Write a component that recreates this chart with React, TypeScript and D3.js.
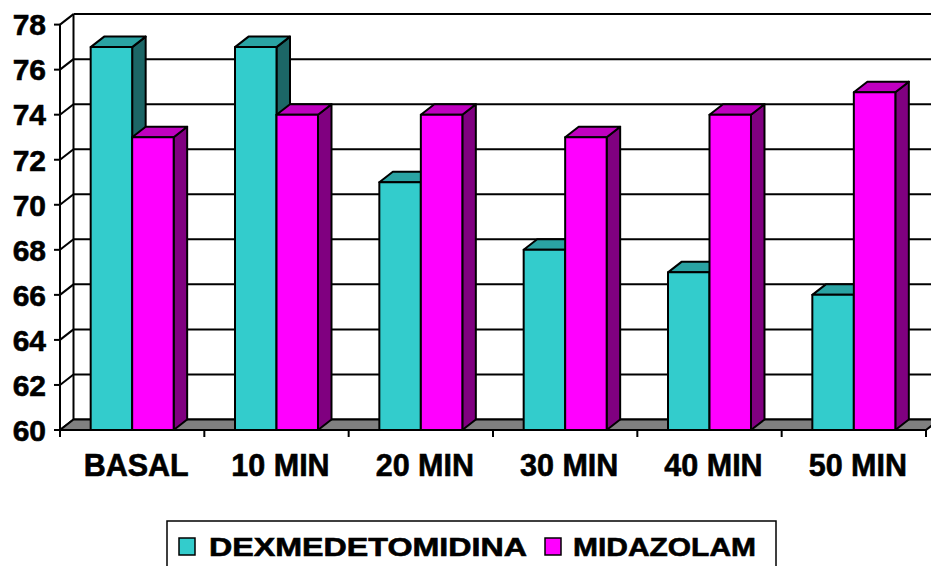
import React from "react";
import * as d3 from "d3";

const categories = ["BASAL", "10 MIN", "20 MIN", "30 MIN", "40 MIN", "50 MIN"];
const seriesNames = ["DEXMEDETOMIDINA", "MIDAZOLAM"];
const dexValues = [77, 77, 71, 68, 67, 66];
const midValues = [73, 74, 74, 73, 74, 75];
const yTicks = [60, 62, 64, 66, 68, 70, 72, 74, 76, 78];

const W = 931;
const H = 566;
const DX = 13.5;
const DY = 10.5;
const FONT = "'Liberation Sans', Arial, sans-serif";

const colors = [
  { front: "#33CCCC", top: "#2AA3A3", side: "#1C6666" },
  { front: "#FF00FF", top: "#C000C0", side: "#800080" },
];

export default function App() {
  const x = d3
    .scaleBand<string>()
    .domain(categories)
    .range([60, 926])
    .paddingInner(0.425)
    .paddingOuter(0.2125);
  const xs = d3.scaleBand<string>().domain(seriesNames).range([0, x.bandwidth()]).padding(0);
  const y = d3.scaleLinear().domain([60, 78]).range([430, 24.6]);

  const x0 = x.range()[0];
  const x1 = x.range()[1];
  const y0 = y(60);
  const step = x.step();
  const boundaries = d3.range(categories.length + 1).map((i) => x0 + i * step);
  const values = [dexValues, midValues];

  const bars: JSX.Element[] = [];
  categories.forEach((c, ci) => {
    seriesNames.forEach((s, si) => {
      const v = values[si][ci];
      const L = (x(c) as number) + (xs(s) as number);
      const R = L + xs.bandwidth();
      const T = y(v);
      const B = y0;
      const col = colors[si];
      const front = `M${L},${T}L${R},${T}L${R},${B}L${L},${B}Z`;
      const top = `M${L},${T}L${L + DX},${T - DY}L${R + DX},${T - DY}L${R},${T}Z`;
      const side = `M${R},${T}L${R + DX},${T - DY}L${R + DX},${B - DY}L${R},${B}Z`;
      bars.push(
        <g key={c + s} stroke="#000" strokeWidth={2} strokeLinejoin="round">
          <path d={side} fill={col.side} />
          <path d={top} fill={col.top} />
          <path d={front} fill={col.front} />
        </g>
      );
    });
  });

  const textStyle = {
    fontFamily: FONT,
    fontWeight: "bold" as const,
    fill: "#000",
    stroke: "#000",
    strokeWidth: 0.6,
  };

  return (
    <svg
      width={W}
      height={H}
      style={{ position: "fixed", left: 0, top: 0, background: "#fff" }}
    >
      <rect x={0} y={0} width={W} height={H} fill="#fff" />
      {yTicks.map((t) => (
        <line
          key={"g" + t}
          x1={x0 + DX}
          x2={x1 + DX + 20}
          y1={y(t) - DY}
          y2={y(t) - DY}
          stroke="#000"
          strokeWidth={2}
        />
      ))}
      <line x1={x0 + DX} x2={x0 + DX} y1={y(78) - DY} y2={y0 - DY} stroke="#000" strokeWidth={2} />
      {yTicks.map((t) => (
        <line
          key={"d" + t}
          x1={x0}
          x2={x0 + DX}
          y1={y(t)}
          y2={y(t) - DY}
          stroke="#000"
          strokeWidth={2}
        />
      ))}
      <path
        d={`M${x0},${y0}L${x1},${y0}L${x1 + DX},${y0 - DY}L${x0 + DX},${y0 - DY}Z`}
        fill="#808080"
        stroke="#000"
        strokeWidth={2}
        strokeLinejoin="round"
      />
      <line x1={x0} x2={x0} y1={y(78)} y2={y0} stroke="#000" strokeWidth={2} />
      {yTicks.map((t) => (
        <line key={"t" + t} x1={x0 - 6} x2={x0} y1={y(t)} y2={y(t)} stroke="#000" strokeWidth={2} />
      ))}
      {boundaries.map((b, i) => (
        <line key={"b" + i} x1={b} x2={b} y1={y0} y2={y0 + 7} stroke="#000" strokeWidth={2} />
      ))}
      <line x1={x0} x2={x1} y1={y0} y2={y0} stroke="#000" strokeWidth={2} />
      {bars}
      {yTicks.map((t) => (
        <text key={"l" + t} x={46} y={y(t)} dy="0.36em" textAnchor="end" fontSize={30} {...textStyle}>
          {t}
        </text>
      ))}
      {categories.map((c) => (
        <text
          key={"c" + c}
          x={(x(c) as number) + x.bandwidth() / 2 + 4}
          y={476}
          textAnchor="middle"
          fontSize={30.5}
          {...textStyle}
        >
          {c}
        </text>
      ))}
      <rect x={167} y={521} width={609} height={70} fill="#fff" stroke="#000" strokeWidth={1.5} />
      <rect x={179} y={538} width={16} height={17} fill={colors[0].front} stroke="#000" strokeWidth={1.5} />
      <text
        x={209}
        y={556}
        fontSize={26}
        textLength={318}
        lengthAdjust="spacingAndGlyphs"
        {...textStyle}
      >
        {seriesNames[0]}
      </text>
      <rect x={545} y={538} width={16} height={17} fill={colors[1].front} stroke="#000" strokeWidth={1.5} />
      <text
        x={573}
        y={556}
        fontSize={26}
        textLength={183}
        lengthAdjust="spacingAndGlyphs"
        {...textStyle}
      >
        {seriesNames[1]}
      </text>
    </svg>
  );
}
